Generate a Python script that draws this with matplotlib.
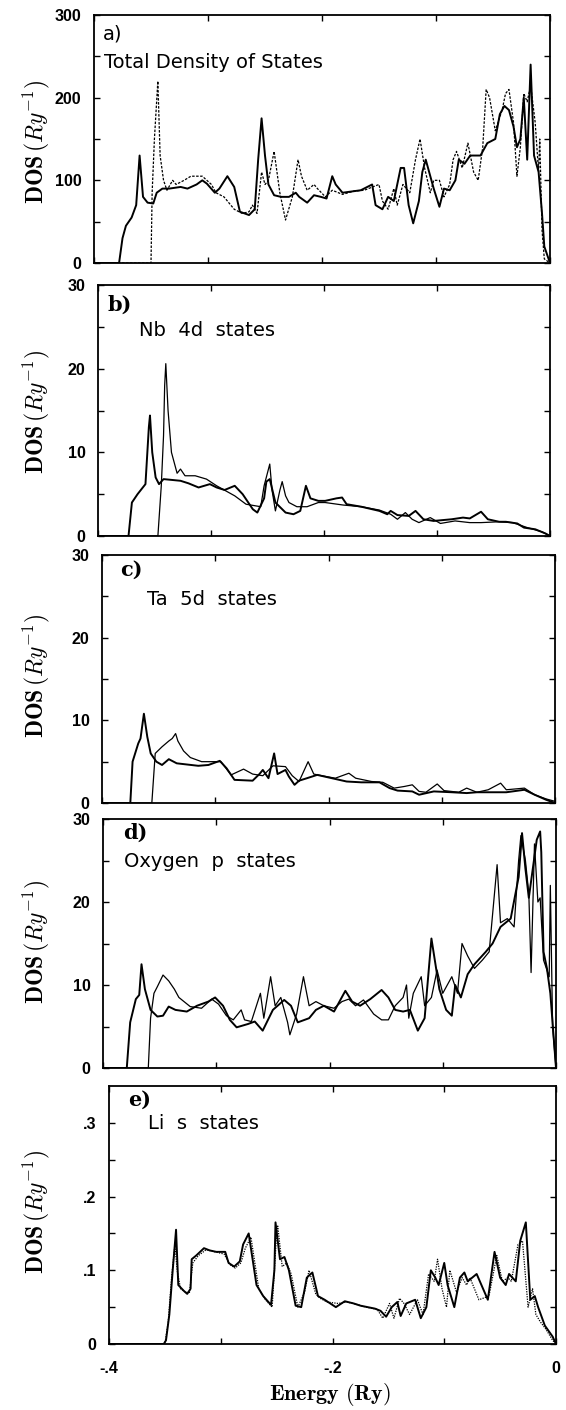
import matplotlib
matplotlib.use("Agg")
import matplotlib.pyplot as plt
from matplotlib.ticker import FixedLocator

plt.rcParams['mathtext.fontset'] = 'cm'

# a) total DOS: curve 1 (lower band edge) and curve 2 (upper band edge)
tot_e1 = [-0.400, -0.378, -0.375, -0.372, -0.367, -0.363, -0.360, -0.357, -0.353, -0.348,
          -0.345, -0.340, -0.334, -0.324, -0.318, -0.310, -0.305, -0.301, -0.294, -0.290,
          -0.283, -0.277, -0.272, -0.264, -0.259, -0.256, -0.253, -0.250, -0.247, -0.242,
          -0.236, -0.229, -0.223, -0.220, -0.213, -0.207, -0.201, -0.196, -0.191, -0.188,
          -0.182, -0.166, -0.156, -0.153, -0.147, -0.142, -0.137, -0.131, -0.128, -0.124,
          -0.120, -0.115, -0.112, -0.109, -0.102, -0.097, -0.093, -0.088, -0.083, -0.080,
          -0.075, -0.070, -0.061, -0.055, -0.048, -0.044, -0.040, -0.036, -0.032, -0.029,
          -0.026, -0.023, -0.020, -0.017, -0.014, -0.010, -0.007, -0.005, -0.002, 0.0]
tot_d1 = [0, 0, 30, 45, 55, 70, 130, 80, 73, 72,
          85, 90, 90, 92, 90, 95, 100, 96, 85, 90,
          105, 92, 62, 58, 65, 125, 175, 130, 95, 82,
          80, 80, 85, 80, 73, 82, 80, 78, 105, 95,
          85, 88, 95, 70, 65, 80, 75, 115, 115, 70,
          48, 75, 110, 125, 90, 68, 90, 88, 100, 125,
          120, 130, 130, 145, 150, 180, 190, 185, 165, 140,
          150, 200, 125, 240, 130, 110, 60, 20, 8, 0]
tot_e2 = [-0.400, -0.350, -0.349, -0.347, -0.344, -0.342, -0.339, -0.336, -0.331, -0.328,
          -0.321, -0.315, -0.305, -0.297, -0.293, -0.286, -0.277, -0.270, -0.264, -0.261,
          -0.257, -0.253, -0.250, -0.247, -0.242, -0.237, -0.232, -0.226, -0.221, -0.218,
          -0.213, -0.207, -0.204, -0.197, -0.191, -0.182, -0.172, -0.163, -0.150, -0.147,
          -0.142, -0.137, -0.134, -0.129, -0.123, -0.118, -0.114, -0.110, -0.105, -0.102,
          -0.097, -0.093, -0.088, -0.085, -0.082, -0.077, -0.072, -0.067, -0.063, -0.059,
          -0.056, -0.053, -0.048, -0.042, -0.039, -0.036, -0.032, -0.029, -0.026, -0.023,
          -0.020, -0.017, -0.013, -0.010, -0.009, -0.007, -0.005, 0.0]
tot_d2 = [0, 0, 85, 150, 220, 130, 100, 88, 100, 95,
          100, 105, 105, 95, 85, 80, 65, 60, 62, 70,
          60, 110, 95, 100, 135, 85, 52, 80, 125, 105,
          88, 95, 90, 80, 88, 83, 87, 88, 95, 75,
          65, 90, 70, 95, 85, 125, 150, 115, 85, 100,
          100, 80, 95, 125, 135, 115, 145, 110, 100, 140,
          210, 200, 160, 185, 205, 210, 170, 105, 140, 205,
          195, 215, 170, 110, 150, 40, 5, 0]

# b) Nb 4d
nb_e1 = [-0.400, -0.373, -0.370, -0.365, -0.358, -0.355, -0.354, -0.352, -0.349, -0.346,
         -0.342, -0.327, -0.320, -0.311, -0.301, -0.295, -0.288, -0.279, -0.272, -0.263,
         -0.259, -0.253, -0.251, -0.248, -0.243, -0.234, -0.227, -0.221, -0.216, -0.212,
         -0.205, -0.199, -0.189, -0.184, -0.180, -0.167, -0.151, -0.144, -0.141, -0.135,
         -0.125, -0.119, -0.112, -0.103, -0.087, -0.077, -0.071, -0.061, -0.055, -0.045,
         -0.039, -0.029, -0.023, -0.013, -0.004, 0.0]
nb_d1 = [0, 0, 4.0, 5.0, 6.2, 13.0, 14.4, 10.0, 7.0, 6.2,
         6.8, 6.6, 6.3, 5.8, 6.2, 5.8, 5.5, 6.0, 5.0, 3.2,
         2.8, 4.5, 6.5, 6.8, 4.0, 2.8, 2.6, 3.0, 6.0, 4.5,
         4.2, 4.2, 4.5, 4.6, 3.8, 3.5, 3.0, 2.6, 3.0, 2.5,
         2.4, 3.0, 2.0, 1.8, 2.0, 2.2, 2.1, 2.9, 2.0, 1.7,
         1.7, 1.5, 1.0, 0.8, 0.3, 0.0]
nb_e2 = [-0.400, -0.347, -0.346, -0.344, -0.342, -0.341, -0.340, -0.338, -0.335, -0.330,
         -0.327, -0.323, -0.314, -0.304, -0.295, -0.279, -0.269, -0.256, -0.253, -0.248,
         -0.246, -0.243, -0.239, -0.237, -0.234, -0.231, -0.224, -0.215, -0.205, -0.199,
         -0.183, -0.167, -0.151, -0.141, -0.135, -0.128, -0.122, -0.116, -0.106, -0.097,
         -0.084, -0.071, -0.061, -0.045, -0.033, -0.020, -0.007, 0.0]
nb_d2 = [0, 0, 2.0, 6.0, 12.0, 18.0, 20.6, 15.0, 10.0, 7.5,
         8.0, 7.2, 7.2, 6.8, 6.0, 4.8, 3.8, 3.5, 6.0, 8.6,
         5.5, 3.0, 5.5, 6.5, 4.8, 4.0, 3.5, 3.5, 4.0, 4.0,
         3.7, 3.5, 3.1, 2.6, 2.0, 2.8, 2.0, 1.6, 2.2, 1.5,
         1.8, 1.6, 1.6, 1.7, 1.6, 1.0, 0.5, 0.0]

# c) Ta 5d
ta_e1 = [-0.400, -0.375, -0.373, -0.368, -0.366, -0.363, -0.360, -0.357, -0.352, -0.347,
         -0.341, -0.334, -0.315, -0.306, -0.296, -0.290, -0.283, -0.267, -0.261, -0.258,
         -0.253, -0.248, -0.245, -0.238, -0.235, -0.230, -0.226, -0.219, -0.210, -0.197,
         -0.184, -0.171, -0.155, -0.146, -0.139, -0.126, -0.120, -0.107, -0.091, -0.078,
         -0.069, -0.059, -0.043, -0.027, -0.018, -0.008, 0.0]
ta_d1 = [0, 0, 5.0, 7.2, 7.8, 10.8, 8.0, 6.0, 5.0, 4.6,
         5.3, 4.8, 4.5, 4.6, 5.1, 4.2, 2.8, 2.7, 3.5, 4.0,
         3.0, 6.0, 3.5, 4.0, 3.2, 2.2, 2.7, 3.0, 3.4, 3.0,
         2.6, 2.5, 2.5, 1.8, 1.5, 1.4, 1.0, 1.4, 1.3, 1.2,
         1.3, 1.3, 1.3, 1.6, 1.0, 0.4, 0.0]
ta_e2 = [-0.400, -0.356, -0.353, -0.347, -0.341, -0.338, -0.335, -0.333, -0.328, -0.322,
         -0.312, -0.302, -0.295, -0.286, -0.275, -0.267, -0.258, -0.249, -0.238, -0.232,
         -0.226, -0.218, -0.213, -0.206, -0.194, -0.182, -0.176, -0.162, -0.152, -0.142,
         -0.133, -0.126, -0.120, -0.114, -0.104, -0.098, -0.085, -0.078, -0.069, -0.059,
         -0.048, -0.043, -0.027, -0.018, -0.008, 0.0]
ta_d2 = [0, 0, 6.0, 6.8, 7.5, 7.8, 8.4, 7.5, 6.3, 5.5,
         5.0, 5.0, 5.0, 3.4, 4.1, 3.5, 3.3, 4.5, 4.4, 3.3,
         2.6, 5.0, 3.5, 3.3, 3.0, 3.6, 3.0, 2.6, 2.5, 1.8,
         2.0, 2.2, 1.4, 1.3, 2.3, 1.5, 1.3, 1.8, 1.3, 1.6,
         2.4, 1.6, 1.8, 1.0, 0.5, 0.2]

# d) oxygen p
ox_e1 = [-0.400, -0.379, -0.376, -0.371, -0.368, -0.366, -0.363, -0.358, -0.352, -0.347,
         -0.342, -0.336, -0.326, -0.317, -0.307, -0.301, -0.294, -0.288, -0.282, -0.272,
         -0.266, -0.259, -0.250, -0.240, -0.234, -0.228, -0.218, -0.212, -0.205, -0.196,
         -0.186, -0.180, -0.173, -0.164, -0.154, -0.148, -0.142, -0.135, -0.129, -0.122,
         -0.116, -0.110, -0.103, -0.097, -0.092, -0.089, -0.084, -0.078, -0.072, -0.062,
         -0.056, -0.049, -0.040, -0.033, -0.030, -0.027, -0.024, -0.017, -0.014, -0.013,
         -0.011, -0.008, -0.005, 0.0]
ox_d1 = [0, 0, 5.5, 8.3, 8.8, 12.5, 9.5, 7.0, 6.2, 6.3,
         7.4, 7.0, 6.8, 7.5, 8.0, 8.5, 7.5, 5.8, 4.9, 5.3,
         5.6, 4.5, 7.0, 8.2, 7.5, 5.5, 6.0, 7.0, 7.5, 6.8,
         9.3, 8.0, 7.5, 8.3, 9.4, 8.5, 7.0, 6.8, 7.0, 4.5,
         6.0, 15.6, 9.5, 7.0, 6.3, 10.0, 8.5, 11.3, 12.5, 14.0,
         15.0, 17.0, 18.0, 23.0, 28.3, 24.0, 20.5, 27.5, 28.5, 26.0,
         14.0, 12.0, 9.0, 0.0]
ox_e2 = [-0.400, -0.360, -0.358, -0.355, -0.352, -0.347, -0.342, -0.337, -0.333, -0.323,
         -0.313, -0.304, -0.298, -0.291, -0.285, -0.278, -0.275, -0.269, -0.261, -0.258,
         -0.252, -0.248, -0.243, -0.237, -0.235, -0.229, -0.223, -0.218, -0.212, -0.205,
         -0.196, -0.189, -0.183, -0.177, -0.170, -0.161, -0.154, -0.148, -0.142, -0.135,
         -0.132, -0.130, -0.126, -0.119, -0.116, -0.110, -0.105, -0.100, -0.092, -0.087,
         -0.083, -0.078, -0.072, -0.065, -0.059, -0.052, -0.049, -0.043, -0.037, -0.033,
         -0.031, -0.027, -0.024, -0.022, -0.019, -0.016, -0.014, -0.011, -0.006, -0.005,
         -0.003, 0.0]
ox_d2 = [0, 0, 6.0, 9.0, 9.8, 11.2, 10.5, 9.5, 8.5, 7.4,
         7.2, 8.3, 7.7, 6.3, 5.8, 7.0, 5.8, 5.6, 9.0, 6.0,
         11.0, 7.5, 8.5, 5.5, 4.0, 6.5, 11.0, 7.5, 8.0, 7.5,
         7.2, 8.0, 8.3, 7.5, 8.2, 6.5, 5.8, 5.8, 7.5, 8.5,
         10.0, 6.0, 9.0, 11.0, 7.5, 8.5, 11.8, 9.0, 11.0, 9.0,
         15.0, 13.5, 12.0, 13.0, 14.0, 24.5, 17.5, 18.0, 17.0, 25.0,
         28.0, 25.0, 21.0, 11.5, 27.0, 20.0, 20.5, 13.0, 11.0, 22.0,
         5.0, 0.0]

# e) Li s
li_e1 = [-0.400, -0.351, -0.349, -0.346, -0.343, -0.340, -0.338, -0.333, -0.330, -0.327,
         -0.326, -0.322, -0.315, -0.310, -0.304, -0.296, -0.293, -0.288, -0.283, -0.280,
         -0.275, -0.272, -0.268, -0.262, -0.255, -0.252, -0.251, -0.247, -0.243, -0.239,
         -0.233, -0.228, -0.223, -0.218, -0.213, -0.207, -0.197, -0.189, -0.181, -0.175,
         -0.162, -0.157, -0.152, -0.147, -0.142, -0.139, -0.134, -0.126, -0.121, -0.116,
         -0.112, -0.108, -0.105, -0.100, -0.097, -0.091, -0.086, -0.082, -0.079, -0.071,
         -0.061, -0.055, -0.050, -0.045, -0.042, -0.036, -0.032, -0.027, -0.023, -0.019,
         -0.016, -0.010, -0.003, 0.0]
li_d1 = [0, 0, 0.005, 0.04, 0.10, 0.155, 0.08, 0.072, 0.068, 0.075,
         0.115, 0.12, 0.13, 0.127, 0.125, 0.125, 0.11, 0.105, 0.112, 0.135,
         0.15, 0.12, 0.08, 0.065, 0.053, 0.10, 0.165, 0.115, 0.118, 0.10,
         0.052, 0.05, 0.09, 0.097, 0.065, 0.06, 0.05, 0.058, 0.055, 0.052,
         0.048, 0.045, 0.037, 0.05, 0.057, 0.038, 0.055, 0.06, 0.035, 0.05,
         0.10, 0.09, 0.08, 0.11, 0.08, 0.05, 0.09, 0.097, 0.085, 0.095,
         0.06, 0.125, 0.09, 0.08, 0.095, 0.085, 0.14, 0.165, 0.06, 0.065,
         0.05, 0.025, 0.01, 0.0]
li_e2 = [-0.400, -0.350, -0.347, -0.344, -0.341, -0.339, -0.336, -0.331, -0.328, -0.325,
         -0.320, -0.313, -0.305, -0.297, -0.292, -0.287, -0.282, -0.278, -0.273, -0.270,
         -0.266, -0.260, -0.254, -0.250, -0.249, -0.245, -0.241, -0.237, -0.231, -0.225,
         -0.221, -0.215, -0.211, -0.205, -0.195, -0.187, -0.179, -0.170, -0.160, -0.155,
         -0.149, -0.145, -0.140, -0.136, -0.131, -0.124, -0.119, -0.114, -0.109, -0.106,
         -0.102, -0.098, -0.095, -0.089, -0.084, -0.080, -0.077, -0.069, -0.060, -0.053,
         -0.048, -0.043, -0.040, -0.034, -0.030, -0.025, -0.021, -0.018, -0.014, -0.009,
         -0.003, 0.0]
li_d2 = [0, 0, 0.03, 0.09, 0.135, 0.10, 0.075, 0.07, 0.07, 0.11,
         0.12, 0.128, 0.125, 0.122, 0.108, 0.103, 0.11, 0.13, 0.145, 0.115,
         0.075, 0.06, 0.05, 0.15, 0.16, 0.105, 0.11, 0.095, 0.05, 0.07,
         0.1, 0.068, 0.062, 0.057, 0.055, 0.057, 0.054, 0.05, 0.047, 0.035,
         0.055, 0.035, 0.062, 0.055, 0.04, 0.06, 0.04, 0.095, 0.085, 0.115,
         0.075, 0.05, 0.1, 0.07, 0.09, 0.08, 0.09, 0.06, 0.065, 0.12,
         0.085, 0.09, 0.085, 0.135, 0.14, 0.05, 0.075, 0.04, 0.03, 0.02,
         0.005, 0.0]

tags = ['a)', 'b)', 'c)', 'd)', 'e)']
titles = ['Total Density of States', 'Nb  4d  states', 'Ta  5d  states',
          'Oxygen  p  states', 'Li  s  states']
y_max = [300, 30, 30, 30, 0.35]
y_ticks = [[0, 100, 200, 300], [0, 10, 20, 30], [0, 10, 20, 30], [0, 10, 20, 30],
           [0, 0.1, 0.2, 0.3]]
y_minor = [[50, 150, 250], [5, 15, 25], [5, 15, 25], [5, 15, 25], [0.05, 0.15, 0.25]]
y_ticklabels = [['0', '100', '200', '300'], ['0', '10', '20', '30'],
                ['0', '10', '20', '30'], ['0', '10', '20', '30'],
                ['0', '.1', '.2', '.3']]
curves = [(tot_e1, tot_d1, tot_e2, tot_d2), (nb_e1, nb_d1, nb_e2, nb_d2),
          (ta_e1, ta_d1, ta_e2, ta_d2), (ox_e1, ox_d1, ox_e2, ox_d2),
          (li_e1, li_d1, li_e2, li_d2)]

W, H = 566, 1410
# panel boxes in pixels: left, right, top, bottom
boxes = [(94, 550, 15, 263), (98, 550, 285, 536), (102, 555, 555, 803),
         (103, 556, 819, 1068), (109, 556, 1086, 1344)]
# (tag x, tag y, title x, title y) in axes fractions
text_pos = [(0.02, 0.925, 0.022, 0.81), (0.02, 0.92, 0.09, 0.82),
            (0.04, 0.94, 0.10, 0.82), (0.045, 0.944, 0.046, 0.83),
            (0.042, 0.946, 0.087, 0.853)]
label_y = [142, 412, 676, 942, 1212]
second_style = [(0, (2, 1.2)), '-', '-', '-', (0, (1, 1))]

fig = plt.figure(figsize=(W / 100, H / 100), dpi=100)
tick_font = dict(family='Liberation Sans', weight='bold', size=11.5)

for i in range(5):
    l, r, t, b = boxes[i]
    ax = fig.add_axes([l / W, 1 - b / H, (r - l) / W, (b - t) / H])
    e1, d1, e2, d2 = curves[i]
    ax.plot(e1, d1, color='black', lw=1.4)
    ax.plot(e2, d2, color='black', lw=0.9, ls=second_style[i])

    ax.set_xlim(-0.4, 0)
    ax.set_ylim(0, y_max[i])
    ax.xaxis.set_major_locator(FixedLocator([-0.4, -0.2, 0.0]))
    ax.xaxis.set_minor_locator(FixedLocator([-0.3, -0.1]))
    ax.yaxis.set_major_locator(FixedLocator(y_ticks[i]))
    ax.yaxis.set_minor_locator(FixedLocator(y_minor[i]))
    ax.set_yticklabels(y_ticklabels[i], fontdict=tick_font)
    ax.tick_params(which='both', direction='in', top=True, right=True, width=1)
    ax.tick_params(which='major', length=4, pad=9)
    ax.tick_params(which='minor', length=4)
    for s in ax.spines.values():
        s.set_linewidth(1.3)

    if i < 4:
        ax.set_xticklabels([])
    else:
        ax.set_xticklabels(['-.4', '-.2', '0'], fontdict=tick_font)
        ax.tick_params(axis='x', pad=12)

    tx, ty, hx, hy = text_pos[i]
    if i == 0:
        ax.text(tx, ty, tags[i], transform=ax.transAxes, fontsize=14,
                family='DejaVu Sans', va='center')
    else:
        ax.text(tx, ty, tags[i], transform=ax.transAxes, fontsize=15,
                family='DejaVu Serif', weight='bold', va='center')
    ax.text(hx, hy, titles[i], transform=ax.transAxes, fontsize=14,
            family='DejaVu Sans', va='center')

    fig.text(36 / W, 1 - label_y[i] / H, r'$\mathbf{DOS}\,(Ry^{-1})$',
             rotation=90, ha='center', va='center', fontsize=17)

fig.text(330 / W, 1 - 1394 / H, r'$\mathbf{Energy\ (Ry)}$',
         ha='center', va='center', fontsize=16)

fig.savefig('out.png', dpi=100)
